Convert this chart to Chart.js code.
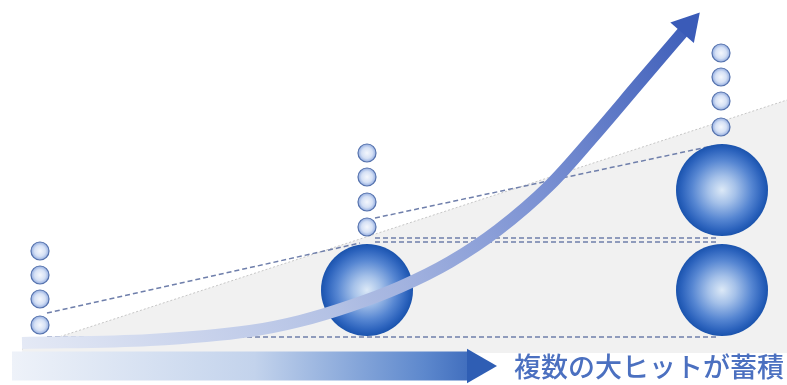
<!DOCTYPE html>
<html>
<head>
<meta charset="utf-8">
<script src="https://cdn.jsdelivr.net/npm/chart.js@4.4.1/dist/chart.umd.min.js"></script>
<style>
  html, body { margin: 0; padding: 0; background: #fff; }
  #diagram { display: block; }
</style>
</head>
<body>
<canvas id="diagram" width="787" height="385"></canvas>
<script>
// positions (x = px from left, y = px from top)
const smallBallX = [40, 367, 721];
const smallBallY = [
  [325, 299, 275, 251],
  [227, 202, 177, 153],
  [127, 101, 77, 53]
];
const bigBallX = [367, 722, 722];
const bigBallY = [290, 290, 190];

const growthX = [22, 150, 250, 300, 350, 400, 450, 498, 550, 594, 640, 688];
const growthY = [343, 340, 331, 321, 306, 287, 262, 230, 185, 136, 82, 26];

const areaX = [22, 787];
const areaY = [349, 100];
const areaBase = 353;

const slopeLowX = [47, 360];
const slopeLowY = [313, 243];
const slopeHighX = [375, 712];
const slopeHighY = [218, 146];
const levelX = [375, 716];
const levelY = [238, 242];
const baseX = [47, 716];
const baseY = 337;

const arrowX = [12, 470];
const arrowHeadX = 477;
const arrowY = 366;

const caption = '複数の大ヒットが蓄積';
const captionX = 514;
const captionY = 367;

function pts(xs, ys) {
  return xs.map((x, i) => ({ x: x, y: Array.isArray(ys) ? ys[i] : ys }));
}

function px(chart, x, y) {
  return [chart.scales.x.getPixelForValue(x), chart.scales.y.getPixelForValue(y)];
}

function ready(chart, p) {
  return chart.chartArea && Number.isFinite(p[0]) && Number.isFinite(p[1]);
}

// 小さい玉
const smallData = [];
smallBallX.forEach((x, i) => {
  smallBallY[i].forEach(y => smallData.push({ x: x, y: y }));
});

const dash = { borderColor: '#6f7fab', borderWidth: 1.5, borderDash: [5, 3], pointRadius: 0, fill: false, order: 9 };

const captionPlugin = {
  id: 'caption',
  afterDraw(chart) {
    const c = chart.ctx;
    const [x, y] = px(chart, captionX, captionY);
    c.save();
    c.font = '500 27px "Noto Sans CJK JP", sans-serif';
    c.fillStyle = '#4b70c0';
    c.textBaseline = 'middle';
    c.fillText(caption, x, y);
    c.restore();
  }
};

new Chart(document.getElementById('diagram'), {
  type: 'line',
  data: {
    datasets: [
      {
        // 灰色の三角
        data: pts(areaX, areaY),
        fill: { value: areaBase },
        backgroundColor: '#f1f1f1',
        borderColor: '#c6c6c6',
        borderWidth: 1,
        borderDash: [2, 2],
        pointRadius: 0,
        order: 10
      },
      Object.assign({ data: pts(slopeLowX, slopeLowY) }, dash),
      Object.assign({ data: pts(slopeHighX, slopeHighY) }, dash),
      Object.assign({ data: pts(levelX, levelY[0]) }, dash),
      Object.assign({ data: pts(levelX, levelY[1]) }, dash),
      Object.assign({ data: pts(baseX, baseY) }, dash),
      {
        // 大きい玉
        data: pts(bigBallX, bigBallY),
        showLine: false,
        pointRadius: 46,
        pointBorderWidth: 0,
        pointBackgroundColor: function(ctx) {
          if (ctx.type !== 'data') return '#2a62b8';
          const p = px(ctx.chart, ctx.raw.x, ctx.raw.y);
          if (!ready(ctx.chart, p)) return '#2a62b8';
          const g = ctx.chart.ctx.createRadialGradient(p[0], p[1], 0, p[0], p[1], 46);
          g.addColorStop(0, '#dce9f7');
          g.addColorStop(0.3, '#a5c1e9');
          g.addColorStop(0.65, '#5686d2');
          g.addColorStop(0.88, '#2c63bd');
          g.addColorStop(1, '#1a53ad');
          return g;
        },
        order: 8
      },
      {
        data: smallData,
        showLine: false,
        pointRadius: 9,
        pointBorderWidth: 1.2,
        pointBorderColor: '#5572ad',
        pointBackgroundColor: function(ctx) {
          if (ctx.type !== 'data') return '#c9d7f0';
          const p = px(ctx.chart, ctx.raw.x, ctx.raw.y);
          if (!ready(ctx.chart, p)) return '#c9d7f0';
          const g = ctx.chart.ctx.createRadialGradient(p[0], p[1], 0, p[0], p[1], 9);
          g.addColorStop(0, '#f4f7fd');
          g.addColorStop(0.6, '#d6e1f5');
          g.addColorStop(1, '#93ade0');
          return g;
        },
        order: 7
      },
      {
        // 成長カーブ
        data: pts(growthX, growthY),
        borderWidth: 12,
        borderCapStyle: 'butt',
        cubicInterpolationMode: 'monotone',
        fill: false,
        borderColor: function(ctx) {
          const chart = ctx.chart;
          const a = px(chart, growthX[0], growthY[0]);
          const b = px(chart, 700, 12);
          if (!ready(chart, a) || !ready(chart, b)) return '#9fb1df';
          const g = chart.ctx.createLinearGradient(a[0], a[1], b[0], b[1]);
          g.addColorStop(0, '#e4e9f5');
          g.addColorStop(0.4, '#b2c0e4');
          g.addColorStop(0.7, '#7c92d3');
          g.addColorStop(1, '#3a5bb8');
          return g;
        },
        pointStyle: 'triangle',
        pointRotation: 41,
        pointRadius: ctx => ctx.dataIndex === growthX.length - 1 ? 18 : 0,
        pointBackgroundColor: '#3a5bb8',
        pointBorderWidth: 0,
        order: 2
      },
      {
        // 下の矢印
        data: pts(arrowX, arrowY),
        borderWidth: 29,
        borderCapStyle: 'butt',
        fill: false,
        pointRadius: 0,
        borderColor: function(ctx) {
          const chart = ctx.chart;
          const a = px(chart, arrowX[0], arrowY);
          const b = px(chart, arrowHeadX + 20, arrowY);
          if (!ready(chart, a) || !ready(chart, b)) return '#9fb8e2';
          const g = chart.ctx.createLinearGradient(a[0], 0, b[0], 0);
          g.addColorStop(0, '#eef2f9');
          g.addColorStop(0.5, '#c3d3ec');
          g.addColorStop(0.85, '#5d88cd');
          g.addColorStop(1, '#2f5eb4');
          return g;
        },
        order: 1
      },
      {
        data: [{ x: arrowHeadX, y: arrowY }],
        showLine: false,
        pointStyle: 'triangle',
        pointRotation: 90,
        pointRadius: 20,
        pointBorderWidth: 0,
        pointBackgroundColor: '#2f5eb4',
        order: 0
      }
    ]
  },
  options: {
    responsive: false,
    animation: false,
    events: [],
    layout: { padding: 0, autoPadding: false },
    plugins: { legend: { display: false }, tooltip: { enabled: false } },
    scales: {
      x: { type: 'linear', min: 0, max: 787, display: false },
      y: { type: 'linear', min: 0, max: 385, reverse: true, display: false }
    }
  },
  plugins: [captionPlugin]
});
</script>
</body>
</html>
